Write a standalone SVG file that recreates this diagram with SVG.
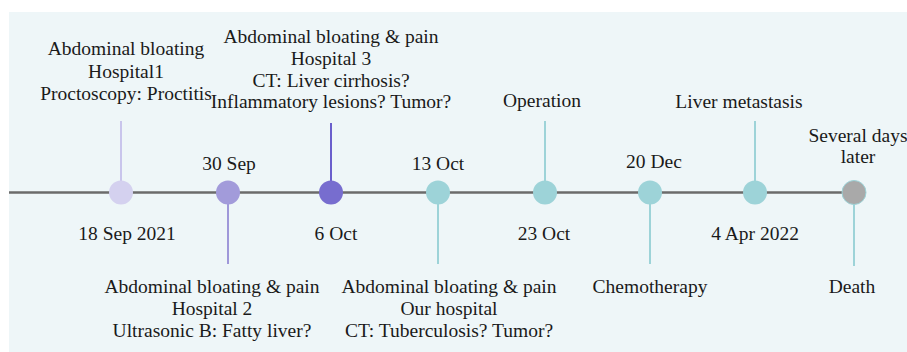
<svg xmlns="http://www.w3.org/2000/svg" width="907" height="352" viewBox="0 0 907 352">
<style>
text{font-family:"Liberation Serif","Times New Roman",serif;font-size:19.5px;fill:#1a1a1a;text-anchor:middle}
.stem{stroke-width:2;fill:none}
.teal{fill:#9dd3d8}
.tealst{stroke:#9dd3d8}
</style>
<rect x="0" y="0" width="907" height="352" fill="#ffffff"/>
<rect x="9" y="12" width="898" height="340" fill="#eef6f8"/>
<g id="connectors">
<line x1="9" y1="192.5" x2="852" y2="192.5" stroke="#6b6b6b" stroke-width="2.5"/>
<line class="stem" x1="121" y1="121" x2="121" y2="192" stroke="#c9c5ec"/>
<line class="stem" x1="228" y1="192" x2="228" y2="264" stroke="#9f98d9"/>
<line class="stem" x1="331" y1="123" x2="331" y2="192" stroke="#6a5fcc"/>
<line class="stem tealst" x1="438" y1="192" x2="438" y2="264"/>
<line class="stem tealst" x1="545" y1="121" x2="545" y2="192"/>
<line class="stem tealst" x1="650" y1="192" x2="650" y2="264"/>
<line class="stem tealst" x1="755" y1="121" x2="755" y2="192"/>
<line class="stem tealst" x1="854" y1="192" x2="854" y2="266"/>
</g>
<g id="n1">
<circle cx="121" cy="192.5" r="12" fill="#d4d1ef"/>
<text x="126" y="55">Abdominal bloating</text>
<text x="126" y="78">Hospital1</text>
<text x="126" y="100">Proctoscopy: Proctitis</text>
<text x="127" y="240">18 Sep 2021</text>
</g>
<g id="n2">
<circle cx="228" cy="192.5" r="12" fill="#a29bda"/>
<text x="229" y="170">30 Sep</text>
<text x="212" y="293">Abdominal bloating &amp; pain</text>
<text x="212" y="315">Hospital 2</text>
<text x="212" y="337">Ultrasonic B: Fatty liver?</text>
</g>
<g id="n3">
<circle cx="331" cy="192.5" r="12" fill="#776dcf"/>
<text x="331" y="43">Abdominal bloating &amp; pain</text>
<text x="331" y="65">Hospital 3</text>
<text x="331" y="87">CT: Liver cirrhosis?</text>
<text x="331" y="108">Inflammatory lesions? Tumor?</text>
<text x="336" y="240">6 Oct</text>
</g>
<g id="n4">
<circle class="teal" cx="438" cy="192.5" r="12"/>
<text x="438" y="170">13 Oct</text>
<text x="449" y="293">Abdominal bloating &amp; pain</text>
<text x="449" y="315">Our hospital</text>
<text x="449" y="337">CT: Tuberculosis? Tumor?</text>
</g>
<g id="n5">
<circle class="teal" cx="545" cy="192.5" r="12"/>
<text x="542" y="107">Operation</text>
<text x="544" y="240">23 Oct</text>
</g>
<g id="n6">
<circle class="teal" cx="650" cy="192.5" r="12"/>
<text x="654" y="168">20 Dec</text>
<text x="650" y="293">Chemotherapy</text>
</g>
<g id="n7">
<circle class="teal" cx="755" cy="192.5" r="12"/>
<text x="739" y="108">Liver metastasis</text>
<text x="755" y="240">4 Apr 2022</text>
</g>
<g id="n8">
<circle cx="854" cy="192.5" r="12" fill="#a9a9a9" stroke="#9dd3d8" stroke-width="1"/>
<text x="858" y="142">Several days</text>
<text x="858" y="163">later</text>
<text x="852" y="293">Death</text>
</g>
</svg>
